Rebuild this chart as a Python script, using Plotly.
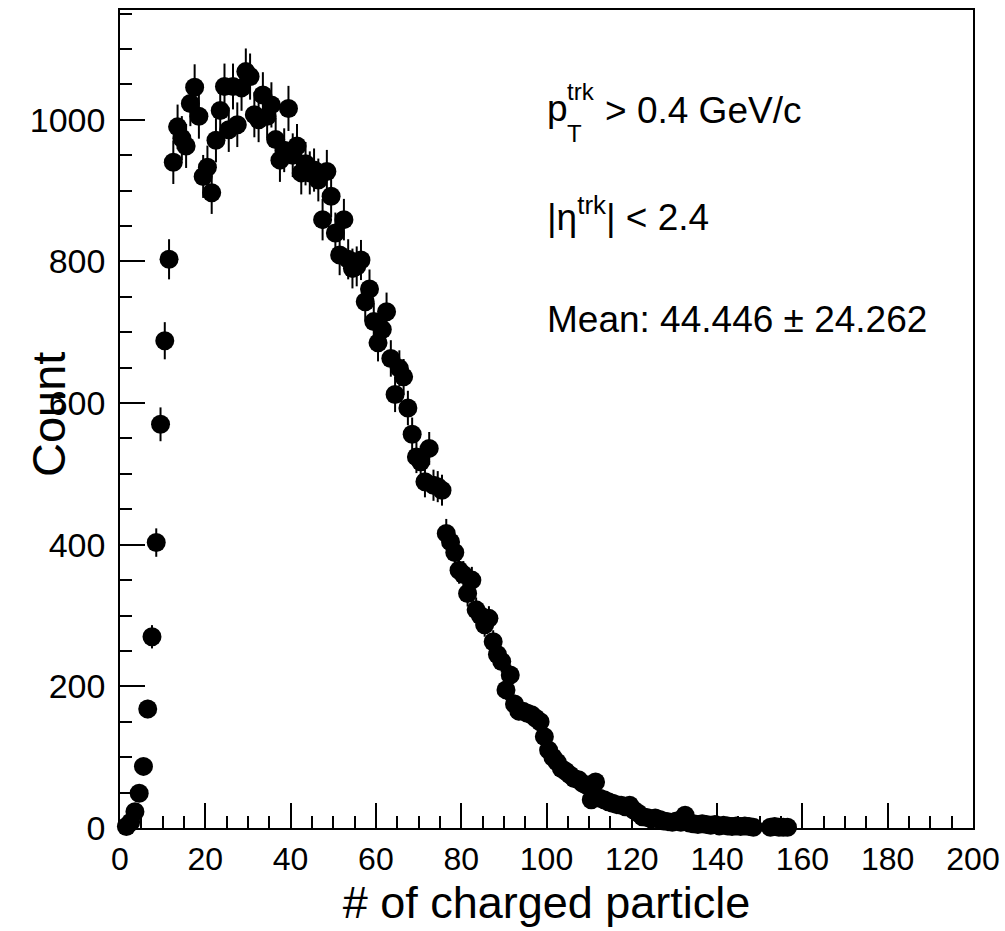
import numpy as np
import plotly.graph_objects as go

# bin centres (# of charged particles) and counts
n_charged = [
    1.5, 2.5, 3.5, 4.5, 5.5, 6.5, 7.5, 8.5, 9.5, 10.5,
    11.5, 12.5, 13.5, 14.5, 15.5, 16.5, 17.5, 18.5, 19.5, 20.5,
    21.5, 22.5, 23.5, 24.5, 25.5, 26.5, 27.5, 28.5, 29.5, 30.5,
    31.5, 32.5, 33.5, 34.5, 35.5, 36.5, 37.5, 38.5, 39.5, 40.5,
    41.5, 42.5, 43.5, 44.5, 45.5, 46.5, 47.5, 48.5, 49.5, 50.5,
    51.5, 52.5, 53.5, 54.5, 55.5, 56.5, 57.5, 58.5, 59.5, 60.5,
    61.5, 62.5, 63.5, 64.5, 65.5, 66.5, 67.5, 68.5, 69.5, 70.5,
    71.5, 72.5, 73.5, 74.5, 75.5, 76.5, 77.5, 78.5, 79.5, 80.5,
    81.5, 82.5, 83.5, 84.5, 85.5, 86.5, 87.5, 88.5, 89.5, 90.5,
    91.5, 92.5, 93.5, 94.5, 95.5, 96.5, 97.5, 98.5, 99.5, 100.5,
    101.5, 102.5, 103.5, 104.5, 105.5, 106.5, 107.5, 108.5, 109.5, 110.5,
    111.5, 112.5, 113.5, 114.5, 115.5, 116.5, 117.5, 118.5, 119.5, 120.5,
    121.5, 122.5, 123.5, 124.5, 125.5, 126.5, 127.5, 128.5, 129.5, 130.5,
    131.5, 132.5, 133.5, 134.5, 135.5, 136.5, 137.5, 138.5, 139.5, 140.5,
    141.5, 142.5, 143.5, 144.5, 145.5, 146.5, 147.5, 148.5,
    152.5, 153.5, 154.5, 155.5, 156.5,
]
counts = [
    2, 8, 23, 49, 87, 168, 270, 403, 570, 688,
    803, 940, 990, 974, 963, 1023, 1046, 1005, 920, 933,
    897, 971, 1013, 1047, 986, 1047, 993, 1045, 1068, 1061,
    1007, 1000, 1035, 1005, 1021, 972, 943, 957, 1016, 950,
    963, 925, 938, 925, 929, 915, 859, 927, 892, 840,
    809, 859, 803, 790, 793, 802, 743, 761, 715, 685,
    704, 729, 663, 612, 649, 637, 593, 556, 524, 517,
    489, 536, 484, 482, 477, 416, 404, 389, 364, 358,
    331, 350, 308, 300, 287, 296, 263, 245, 235, 195,
    216, 175, 165, 165, 162, 160, 155, 150, 129, 110,
    100, 93, 84, 80, 75, 70, 68, 63, 60, 40,
    65, 42, 40, 37, 35, 33, 32, 30, 32, 25,
    21, 16, 15, 13, 14, 12, 10, 9, 8, 10,
    8, 18, 7, 6, 5, 6, 5, 4, 5, 3,
    4, 3, 2, 3, 2, 3, 2, 1,
    1, 2, 1, 1, 1,
]
errors = list(np.sqrt(np.array(counts, dtype=float)))

x_ticks = [0, 20, 40, 60, 80, 100, 120, 140, 160, 180, 200]
y_ticks = [0, 200, 400, 600, 800, 1000]

# plot-area geometry in pixels (used to place texts in paper coordinates)
L, R, T, B = 120, 32, 10, 103
W, H = 1005, 931
PW, PH = W - L - R, H - T - B


def px(x):
    return (x - L) / PW


def py(y):
    return (H - B - y) / PH


fig = go.Figure()
fig.add_trace(go.Scatter(
    x=n_charged, y=counts, mode="markers",
    marker=dict(color="black", size=19, line=dict(width=0)),
    error_y=dict(type="data", array=errors, visible=True, color="black",
                 thickness=2, width=0),
    cliponaxis=False, showlegend=False,
))

regular = "Liberation Sans, Arial, Helvetica, sans-serif"

fig.update_layout(
    width=W, height=H,
    margin=dict(l=L, r=R, t=T, b=B),
    paper_bgcolor="white", plot_bgcolor="white",
    font=dict(family=regular, color="black"),
    xaxis=dict(
        range=[0, 200], tickvals=x_ticks, ticktext=[str(v) for v in x_ticks],
        ticks="inside", ticklen=25, tickwidth=1.5, tickcolor="black",
        minor=dict(dtick=5, ticks="inside", ticklen=12, tickwidth=1.5, tickcolor="black"),
        showline=True, linecolor="black", linewidth=2, mirror=True,
        showgrid=False, zeroline=False, automargin=False,
        tickfont=dict(family=regular, size=32, color="black"),
        ticklabelstandoff=2,
        title=dict(text="# of charged particle", font=dict(family=regular, size=45, color="black"), standoff=6),
    ),
    yaxis=dict(
        range=[0, 1155], tickvals=y_ticks, ticktext=[str(v) for v in y_ticks],
        ticks="inside", ticklen=25, tickwidth=1.5, tickcolor="black",
        minor=dict(dtick=50, ticks="inside", ticklen=12, tickwidth=1.5, tickcolor="black"),
        showline=True, linecolor="black", linewidth=1.5, mirror=True,
        showgrid=False, zeroline=False, automargin=False,
        tickfont=dict(family=regular, size=34, color="black"),
        ticklabelstandoff=6,
    ),
)

# y-axis title, placed over the tick labels as in the reference
fig.add_annotation(x=px(48), y=py(415), xref="paper", yref="paper",
                   xanchor="center", yanchor="middle", textangle=-90,
                   text="Count", showarrow=False,
                   font=dict(family=regular, size=47, color="black"))

ann_font = dict(family=regular, size=37, color="black")
small_font = dict(family=regular, size=24, color="black")

# p_T^trk > 0.4 GeV/c  (sub- and superscript stacked as in ROOT)
fig.add_annotation(x=px(545), y=py(108), xref="paper", yref="paper", xanchor="left", yanchor="middle",
                   text="p", showarrow=False, font=ann_font)
fig.add_annotation(x=px(565), y=py(92), xref="paper", yref="paper", xanchor="left", yanchor="middle",
                   text="trk", showarrow=False, font=small_font)
fig.add_annotation(x=px(565), y=py(133), xref="paper", yref="paper", xanchor="left", yanchor="middle",
                   text="T", showarrow=False, font=small_font)
fig.add_annotation(x=px(603), y=py(110), xref="paper", yref="paper", xanchor="left", yanchor="middle",
                   text="> 0.4 GeV/c", showarrow=False, font=ann_font)

fig.add_annotation(x=px(545), y=py(214), xref="paper", yref="paper", xanchor="left", yanchor="middle",
                   text="|η<sup>trk</sup>| < 2.4", showarrow=False, font=ann_font)
fig.add_annotation(x=px(545), y=py(319), xref="paper", yref="paper", xanchor="left", yanchor="middle",
                   text="Mean: 44.446 ± 24.262", showarrow=False, font=ann_font)

fig.write_html("out.html", config={"displayModeBar": False},
               post_script="document.body.style.margin='0';document.body.style.overflow='hidden';")
